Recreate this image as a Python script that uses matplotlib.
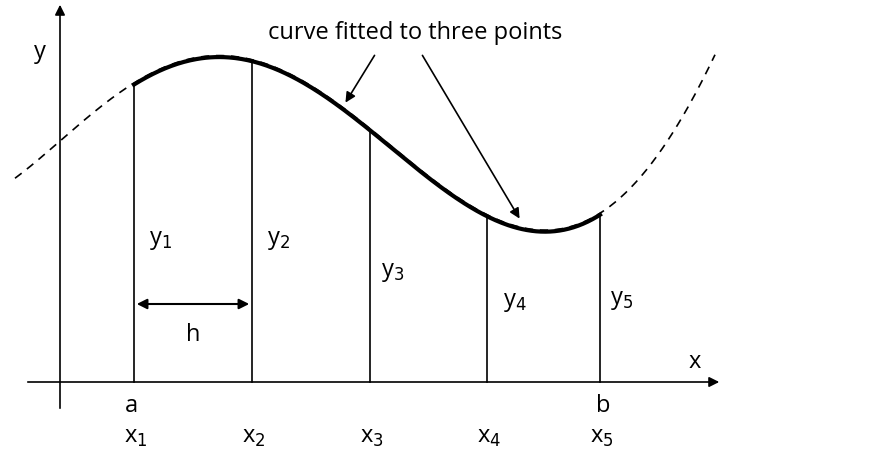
import matplotlib.pyplot as plt
import numpy as np

# node positions (pixel-like units of the diagram)
node_x = [134, 252, 370, 487, 600]
node_y = [86, 58, 127, 226, 210]
node_sub = ["1", "2", "3", "4", "5"]

# dashed "true" curve key points
dash_x = [15, 60, 134, 240, 300, 370, 440, 520, 600, 650, 715]
dash_y = [180, 140, 86, 58, 80, 127, 190, 228, 210, 170, 55]

base_y = 383

fig = plt.figure(figsize=(8.78, 4.64), dpi=100)
ax = fig.add_axes([0, 0, 1, 1])
ax.set_xlim(0, 878)
ax.set_ylim(464, 0)
ax.axis("off")
plt.rcParams['font.family'] = ['Open Sans', 'DejaVu Sans']

# dashed curve
c = np.polyfit(dash_x, dash_y, 6)
xx = np.linspace(15, 715, 400)
ax.plot(xx, np.polyval(c, xx), "k--", lw=1.2, dashes=(5, 4))

# fitted curve (thick) between a and b
xs = np.linspace(node_x[0], node_x[-1], 300)
ax.plot(xs, np.polyval(c, xs) + 1.5, "k-", lw=3)

# ordinates
for x in node_x:
    ax.plot([x, x], [base_y, np.polyval(c, x) + 1.5], "k-", lw=1.2)

arr = dict(arrowstyle="-|>,head_length=0.6,head_width=0.3", color="k", lw=1.2)
# axes
ax.annotate("", xy=(722, base_y), xytext=(25, base_y), arrowprops=arr)
ax.annotate("", xy=(60, 3), xytext=(60, 412), arrowprops=arr)
ax.text(40, 52, "y", fontsize=17, ha="center", va="center")
ax.text(695, 362, "x", fontsize=17, ha="center", va="center")
ax.text(131, 406, "a", fontsize=17, ha="center", va="center")
ax.text(603, 406, "b", fontsize=17, ha="center", va="center")

for x, s in zip(node_x, node_sub):
    ax.text(x + 2, 437, "x$_{%s}$" % s, fontsize=17, ha="center", va="center")

y_lab_pos = [(160, 240), (278, 240), (393, 272), (515, 302), (622, 300)]
for (x, y), s in zip(y_lab_pos, node_sub):
    ax.text(x, y, "y$_{%s}$" % s, fontsize=17, ha="center", va="center")

# h
ax.annotate("", xy=(134, 305), xytext=(252, 305),
            arrowprops=dict(arrowstyle="<|-|>,head_length=0.6,head_width=0.3", color="k", lw=1.5))
ax.text(193, 335, "h", fontsize=17, ha="center", va="center")

# annotation
ax.text(415, 33, "curve fitted to three points", fontsize=17, ha="center", va="center")
ax.annotate("", xy=(344, 106), xytext=(376, 54), arrowprops=arr)
ax.annotate("", xy=(521, 222), xytext=(421, 54), arrowprops=arr)

fig.savefig("out.png", dpi=100)
